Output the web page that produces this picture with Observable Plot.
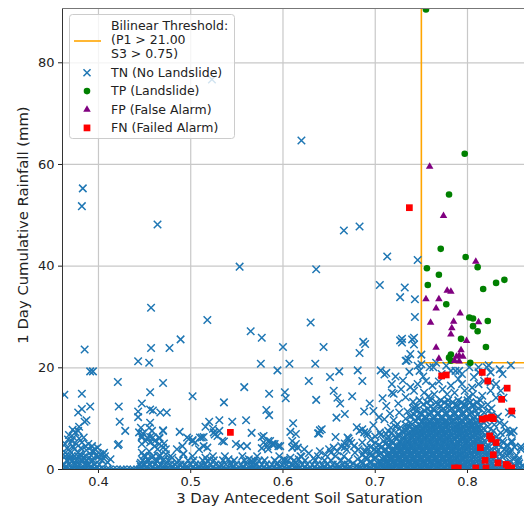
<!DOCTYPE html>
<html><head><meta charset="utf-8">
<script src="https://cdn.jsdelivr.net/npm/d3@7"></script>
<script src="https://cdn.jsdelivr.net/npm/@observablehq/plot@0.6"></script>
<style>
html,body{margin:0;padding:0;background:#fff;}
#chart{position:relative;width:524px;height:506px;overflow:hidden;}
svg{display:block;}
</style></head><body><div id="chart"></div>
<script>
const xTicks = [0.4, 0.5, 0.6, 0.7, 0.8];
const yTicks = [0, 20, 40, 60, 80];
const xLabel = "3 Day Antecedent Soil Saturation";
const yLabel = "1 Day Cumulative Rainfall (mm)";
const thresholdP1 = 21;
const thresholdS3 = 0.75;
const seriesNames = ["TN (No Landslide)", "TP (Landslide)", "FP (False Alarm)", "FN (Failed Alarm)"];

// TN: sparse points (upper area)
const tnSparse = [[0.523,76.7],[0.620,64.7],[0.383,55.3],[0.382,51.8],[0.464,48.2],[0.666,47.0],[0.683,47.8],[0.713,41.9],[0.746,41.2],[0.553,39.9],[0.636,39.4],[0.705,36.3],[0.732,35.8],[0.727,33.9],[0.743,33.5],[0.743,30.0],[0.457,31.8],[0.518,29.4],[0.630,28.9],[0.565,27.2],[0.577,25.9],[0.489,25.6],[0.477,23.9],[0.457,23.9],[0.385,23.6],[0.600,24.1],[0.644,24.1],[0.687,25.1],[0.689,24.7],[0.683,22.9],[0.727,25.4],[0.729,25.0],[0.740,25.6],[0.742,24.6],[0.738,22.7],[0.734,21.4],[0.750,22.6],[0.443,21.3],[0.455,21.0],[0.576,20.8],[0.607,20.8],[0.635,20.8],[0.391,19.3],[0.394,19.3],[0.594,19.5],[0.661,19.3],[0.681,19.5],[0.706,19.5],[0.712,19.0],[0.710,18.7],[0.651,18.2],[0.421,17.2],[0.470,17.0],[0.628,17.4],[0.686,17.4],[0.718,16.8],[0.718,15.1],[0.720,14.9],[0.733,14.2],[0.558,16.2],[0.363,14.7],[0.382,14.9],[0.456,15.2],[0.502,14.4],[0.585,14.9],[0.602,15.2],[0.603,14.0],[0.655,15.5],[0.659,14.1],[0.662,13.0],[0.675,14.4],[0.636,13.7],[0.536,13.2],[0.694,13.0],[0.447,13.0],[0.391,12.4],[0.422,12.4],[0.382,11.9],[0.378,11.2],[0.456,11.8],[0.459,11.6],[0.467,11.2],[0.474,11.2],[0.443,11.4],[0.443,10.3],[0.582,11.7],[0.585,10.7],[0.658,10.2],[0.667,10.9],[0.688,11.4],[0.698,11.5],[0.704,10.3],[0.726,11.2],[0.735,11.4],[0.743,12.2],[0.746,10.2],[0.729,25.7],[0.742,25.9],[0.730,17.5],[0.725,13.0],[0.712,12.5],[0.708,14.0],[0.722,18.3],[0.738,16.2],[0.728,15.8],[0.716,11.0],[0.737,19.2],[0.741,13.3]];

// TN: low points (x < 0.72, y < 10)
const tnLow = [[0.387,9.7],[0.385,9.4],[0.423,9.4],[0.456,9.2],[0.455,8.2],[0.560,9.7],[0.545,9.4],[0.531,9.7],[0.520,9.4],[0.516,8.4],[0.524,8.0],[0.611,9.1],[0.608,7.4],[0.614,7.0],[0.642,7.9],[0.638,7.1],[0.680,8.3],[0.686,7.9],[0.691,7.2],[0.566,7.2],[0.488,7.4],[0.470,7.7],[0.429,7.6],[0.372,7.8],[0.375,7.3],[0.378,7.6],[0.373,6.3],[0.379,6.1],[0.382,5.3],[0.376,5.0],[0.372,4.6],[0.448,7.1],[0.447,6.3],[0.456,6.4],[0.461,5.6],[0.466,6.1],[0.471,5.1],[0.526,6.9],[0.531,7.6],[0.536,5.5],[0.496,6.3],[0.502,5.8],[0.510,6.3],[0.514,6.4],[0.554,4.6],[0.561,4.6],[0.579,6.6],[0.584,5.6],[0.589,5.0],[0.595,4.6],[0.612,4.6],[0.616,4.3],[0.657,6.4],[0.667,5.1],[0.671,6.1],[0.399,4.3],[0.406,3.3],[0.393,3.6],[0.364,5.0],[0.366,4.2],[0.364,3.3],[0.368,2.7],[0.485,4.0],[0.492,3.1],[0.393,4.6],[0.395,3.6],[0.402,3.0],[0.397,2.7],[0.390,2.3],[0.402,2.0],[0.380,3.0],[0.377,2.0],[0.383,1.7],[0.373,1.3],[0.421,4.8],[0.447,5.0],[0.451,5.6],[0.456,5.3],[0.461,4.6],[0.466,5.0],[0.470,4.3],[0.473,4.0],[0.464,4.0],[0.455,3.6],[0.447,3.3],[0.449,2.7],[0.458,2.3],[0.467,2.7],[0.473,3.0],[0.480,2.3],[0.453,2.0],[0.464,1.7],[0.471,2.0],[0.485,1.3],[0.446,1.3],[0.455,1.0],[0.446,8.2],[0.444,7.3],[0.447,6.6],[0.453,6.3],[0.458,7.6],[0.459,6.3],[0.466,6.3],[0.470,7.6],[0.498,6.0],[0.502,5.6],[0.505,5.3],[0.512,6.3],[0.514,4.6],[0.518,4.3],[0.509,4.0],[0.525,7.3],[0.529,6.6],[0.534,5.6],[0.549,5.0],[0.577,6.4],[0.579,5.3],[0.583,4.6],[0.586,5.6],[0.588,5.0],[0.584,4.0],[0.577,4.2],[0.591,5.0],[0.597,4.6],[0.492,3.0],[0.491,4.6],[0.516,2.3],[0.518,1.7],[0.521,2.0],[0.541,2.0],[0.543,1.3],[0.563,2.0],[0.566,1.7],[0.568,1.3],[0.574,1.7],[0.594,1.3],[0.601,2.0],[0.605,1.7],[0.608,2.3],[0.614,1.3],[0.617,2.0],[0.610,5.6],[0.614,5.0],[0.610,4.3],[0.640,7.7],[0.639,7.1],[0.683,7.6],[0.688,7.3],[0.692,6.9],[0.670,6.3],[0.672,5.6],[0.667,4.4],[0.623,4.0],[0.650,4.0],[0.652,3.3],[0.655,4.3],[0.677,4.6],[0.682,4.0],[0.688,3.6],[0.691,4.3],[0.366,1.8],[0.369,3.6],[0.371,5.6],[0.374,2.6],[0.378,3.3],[0.381,4.2],[0.384,2.4],[0.387,3.8],[0.389,5.0],[0.392,2.8],[0.396,4.0],[0.400,2.5],[0.404,1.8],[0.407,2.6],[0.410,1.4],[0.368,6.8],[0.379,8.4],[0.384,6.3],[0.388,1.0],[0.376,1.0],[0.405,3.0],[0.422,5.0],[0.413,2.0],[0.620,2.5],[0.628,3.2],[0.633,2.2],[0.640,3.6],[0.646,2.9],[0.659,3.6],[0.663,4.6],[0.669,3.9],[0.674,5.2],[0.678,3.3],[0.686,5.3],[0.695,5.8],[0.700,6.5],[0.705,7.3],[0.698,8.7],[0.712,7.0],[0.703,4.0],[0.710,9.9],[0.720,9.7],[0.724,8.9],[0.717,8.2],[0.713,6.0],[0.711,5.0],[0.718,5.6],[0.725,6.6],[0.729,7.6],[0.734,8.2],[0.740,8.9],[0.743,7.6],[0.367,5.9],[0.374,4.0],[0.386,4.6],[0.369,2.0],[0.381,2.6],[0.392,1.6]];

// TN: x positions of events with 0 mm rainfall
const tnZeroX = [0.362,0.365,0.369,0.372,0.376,0.379,0.383,0.386,0.390,0.394,0.397,0.401,0.405,0.409,0.412,0.416,0.420,0.424,0.427,0.431,0.435,0.438,0.442,0.445,0.449,0.453,0.456,0.460,0.463,0.467,0.471,0.474,0.478,0.482,0.485,0.489,0.493,0.496,0.500,0.504,0.507,0.511,0.515,0.518,0.522,0.526,0.529,0.533,0.537,0.540,0.544,0.548,0.551,0.555,0.559,0.562,0.566,0.570,0.573,0.577,0.581,0.584,0.588,0.592,0.595,0.599,0.603,0.606,0.610,0.614,0.617,0.621,0.625,0.628,0.632,0.636,0.639,0.643,0.647,0.650,0.654,0.658,0.661,0.665,0.669,0.672,0.676,0.680,0.683,0.687,0.691,0.694,0.698,0.702,0.705,0.709,0.713,0.716,0.720,0.724,0.727,0.731,0.735,0.738,0.742,0.746,0.749,0.753,0.757,0.760,0.764,0.768,0.771,0.775,0.779,0.782,0.786,0.790,0.793,0.797,0.801,0.804,0.808,0.812,0.815,0.819,0.823,0.826,0.830,0.834,0.837,0.841,0.845,0.848,0.852,0.856,0.859];

// TN: low-rainfall band rows outside the main cluster [rainfall, [saturation values]]
const tnBandRows = [
 [0.5,[0.364,0.371,0.377,0.384,0.391,0.398,0.446,0.452,0.459,0.466,0.472,0.479,0.486,0.495,0.503,0.510,0.517,0.524,0.532,0.545,0.556,0.566,0.575,0.586,0.597,0.606,0.615,0.624,0.634,0.644,0.652,0.660,0.667]],
 [1.0,[0.363,0.368,0.374,0.379,0.385,0.390,0.396,0.401,0.445,0.450,0.456,0.461,0.467,0.472,0.478,0.483,0.489,0.494,0.500,0.505,0.511,0.516,0.522,0.527,0.533,0.538,0.544,0.549,0.555,0.560,0.566,0.571,0.577,0.582,0.588,0.593,0.599,0.604,0.610,0.615,0.621,0.626,0.632,0.637,0.643,0.648,0.654,0.659,0.665,0.670]],
 [1.8,[0.366,0.372,0.381,0.387,0.394,0.448,0.454,0.463,0.470,0.476,0.487,0.497,0.503,0.513,0.525,0.535,0.547,0.558,0.569,0.580,0.591,0.602,0.612,0.624,0.635,0.645,0.652,0.663,0.671]],
 [2.6,[0.364,0.371,0.378,0.386,0.451,0.459,0.465,0.478,0.502,0.524,0.537,0.556,0.572,0.596,0.619,0.638,0.657,0.666]]
];

// TN: dense cluster rows [rainfall, [saturation values]]
const tnClusterRows = [
 [13.6,[0.748,0.760,0.771,0.779,0.790,0.800,0.814]],
 [13.2,[0.756,0.766,0.775,0.784,0.794,0.803,0.810]],
 [12.8,[0.752,0.768,0.779,0.788,0.797,0.806,0.822]],
 [12.4,[0.745,0.760,0.771,0.780,0.788,0.797,0.806,0.816]],
 [12.0,[0.741,0.757,0.763,0.774,0.783,0.792,0.801,0.812,0.826]],
 [11.6,[0.744,0.753,0.764,0.772,0.781,0.790,0.799,0.809,0.823]],
 [11.2,[0.749,0.760,0.768,0.777,0.786,0.795,0.804,0.818,0.845]],
 [10.8,[0.742,0.750,0.759,0.768,0.777,0.786,0.795,0.803,0.811,0.826]],
 [10.4,[0.738,0.754,0.764,0.772,0.781,0.790,0.799,0.808,0.814,0.833]],
 [10.0,[0.733,0.747,0.755,0.763,0.772,0.780,0.788,0.797,0.806,0.815,0.830]],
 [9.6,[0.744,0.751,0.759,0.767,0.776,0.784,0.793,0.802,0.811,0.820]],
 [9.2,[0.738,0.751,0.759,0.767,0.775,0.783,0.792,0.801,0.809,0.818,0.835]],
 [8.8,[0.733,0.747,0.755,0.763,0.771,0.779,0.788,0.797,0.805,0.814,0.829,0.840]],
 [8.4,[0.722,0.737,0.745,0.754,0.762,0.770,0.778,0.787,0.795,0.804,0.812,0.822]],
 [8.0,[0.726,0.741,0.750,0.758,0.766,0.774,0.783,0.791,0.800,0.808,0.817]],
 [7.6,[0.714,0.733,0.741,0.749,0.757,0.765,0.773,0.781,0.790,0.798,0.807,0.815,0.828,0.842]],
 [7.2,[0.718,0.737,0.745,0.753,0.761,0.769,0.777,0.786,0.794,0.803,0.811,0.822,0.836,0.848]],
 [6.8,[0.706,0.726,0.735,0.744,0.752,0.760,0.768,0.776,0.784,0.793,0.801,0.810,0.819,0.826]],
 [6.4,[0.722,0.731,0.740,0.748,0.756,0.764,0.772,0.780,0.789,0.797,0.806,0.815,0.831]],
 [6.0,[0.716,0.723,0.731,0.739,0.747,0.755,0.763,0.771,0.779,0.787,0.796,0.804,0.813,0.823,0.834]],
 [5.6,[0.709,0.727,0.735,0.743,0.751,0.759,0.767,0.775,0.783,0.792,0.800,0.809,0.818,0.838,0.848]],
 [5.2,[0.700,0.719,0.727,0.735,0.743,0.751,0.759,0.767,0.775,0.783,0.791,0.800,0.808,0.816,0.828,0.839]],
 [4.8,[0.704,0.715,0.723,0.731,0.739,0.747,0.755,0.763,0.771,0.779,0.787,0.796,0.804,0.812,0.822,0.834,0.843]],
 [4.4,[0.695,0.707,0.715,0.723,0.731,0.739,0.747,0.755,0.763,0.771,0.779,0.787,0.795,0.803,0.812,0.821,0.831,0.851]],
 [4.0,[0.699,0.711,0.719,0.727,0.735,0.743,0.751,0.759,0.767,0.775,0.783,0.791,0.799,0.808,0.817,0.826,0.840,0.858]],
 [3.6,[0.690,0.702,0.710,0.718,0.726,0.734,0.742,0.750,0.758,0.766,0.774,0.782,0.790,0.798,0.807,0.815,0.824,0.832,0.842]],
 [3.2,[0.695,0.706,0.714,0.722,0.730,0.738,0.746,0.754,0.762,0.770,0.778,0.786,0.794,0.803,0.811,0.820,0.836,0.846]],
 [2.8,[0.686,0.696,0.704,0.713,0.721,0.729,0.737,0.745,0.753,0.761,0.769,0.777,0.785,0.793,0.801,0.810,0.820,0.830,0.843,0.853]],
 [2.4,[0.690,0.700,0.709,0.717,0.725,0.733,0.741,0.749,0.757,0.765,0.773,0.781,0.789,0.797,0.806,0.815,0.825,0.838]],
 [2.0,[0.681,0.691,0.699,0.708,0.716,0.724,0.732,0.740,0.748,0.756,0.764,0.772,0.780,0.788,0.796,0.805,0.814,0.824,0.834,0.850]],
 [1.6,[0.685,0.695,0.704,0.712,0.720,0.728,0.736,0.744,0.752,0.760,0.768,0.776,0.784,0.792,0.801,0.810,0.819,0.830,0.846,0.855]],
 [1.2,[0.676,0.686,0.695,0.703,0.711,0.719,0.727,0.735,0.743,0.751,0.759,0.767,0.775,0.783,0.791,0.800,0.808,0.817,0.827,0.840,0.856]],
 [0.8,[0.680,0.690,0.699,0.707,0.715,0.723,0.731,0.739,0.747,0.755,0.763,0.771,0.779,0.787,0.795,0.804,0.813,0.823,0.835,0.852,0.860]],
 [0.4,[0.672,0.684,0.694,0.703,0.711,0.719,0.727,0.735,0.743,0.751,0.759,0.767,0.775,0.783,0.791,0.799,0.808,0.817,0.827,0.838,0.846,0.857]]
];

// TN: the solid core of the cluster [rainfall, [saturation values]]
const tnCoreRows = [
 [9.4,[0.755,0.763,0.771,0.779,0.788,0.796,0.805]],
 [8.6,[0.750,0.758,0.766,0.775,0.783,0.791,0.800,0.809]],
 [7.8,[0.745,0.753,0.761,0.770,0.778,0.786,0.794,0.803,0.811]],
 [7.0,[0.741,0.749,0.757,0.765,0.773,0.781,0.790,0.798,0.807,0.815]],
 [6.2,[0.735,0.744,0.752,0.760,0.768,0.776,0.784,0.793,0.801,0.810]],
 [5.4,[0.731,0.739,0.747,0.755,0.763,0.771,0.779,0.788,0.796,0.805,0.813]],
 [4.6,[0.727,0.735,0.743,0.751,0.759,0.767,0.775,0.783,0.791,0.800,0.808,0.816]],
 [3.8,[0.722,0.730,0.738,0.746,0.754,0.762,0.770,0.778,0.786,0.795,0.803,0.812,0.820]],
 [3.0,[0.717,0.725,0.733,0.741,0.749,0.757,0.765,0.773,0.781,0.790,0.798,0.806,0.815,0.824]],
 [2.2,[0.712,0.720,0.728,0.736,0.744,0.752,0.760,0.768,0.776,0.785,0.793,0.801,0.810,0.819,0.829]],
 [1.4,[0.707,0.715,0.723,0.731,0.739,0.747,0.755,0.763,0.771,0.780,0.788,0.796,0.805,0.814,0.824]],
 [0.6,[0.702,0.710,0.718,0.726,0.734,0.742,0.750,0.758,0.766,0.775,0.783,0.791,0.800,0.809,0.819,0.830]]
];

// TN: points just below threshold in the cluster
const tnClusterTop = [[0.746,16.8],[0.742,15.5],[0.753,15.1],[0.755,17.4],[0.762,16.5],[0.764,14.8],[0.773,15.8],[0.782,16.5],[0.786,15.1],[0.794,16.8],[0.797,15.5],[0.805,16.1],[0.806,14.8],[0.816,14.5],[0.825,15.5],[0.831,14.1],[0.836,15.5],[0.818,17.4],[0.812,16.8],[0.825,17.1],[0.839,14.1],[0.772,18.8],[0.794,18.8],[0.812,19.1],[0.825,19.1],[0.838,18.8],[0.748,19.4],[0.782,19.4],[0.787,19.4],[0.802,20.1],[0.823,20.5],[0.835,19.7],[0.847,20.5],[0.759,20.1],[0.766,21.0],[0.746,20.4],[0.750,20.7],[0.733,21.4],[0.736,21.7],[0.763,20.1],[0.777,20.4],[0.791,19.4],[0.812,20.1],[0.821,20.1],[0.848,10.9],[0.846,7.3],[0.850,7.6],[0.855,2.0],[0.848,5.3],[0.843,4.6],[0.846,3.6],[0.858,4.5],[0.758,14.4],[0.769,17.3],[0.778,14.8],[0.790,17.8],[0.801,14.2],[0.752,18.3],[0.807,18.2],[0.831,16.8]];

const tp = [[0.755,90.5],[0.797,62.1],[0.780,54.1],[0.771,43.4],[0.798,41.8],[0.756,39.6],[0.811,39.8],[0.769,38.3],[0.757,36.3],[0.817,35.5],[0.831,36.7],[0.840,37.3],[0.777,32.5],[0.802,29.9],[0.806,29.7],[0.822,29.2],[0.806,28.2],[0.811,27.2],[0.793,25.7],[0.820,24.1],[0.782,22.6],[0.780,22.0],[0.782,21.4],[0.803,21.0]];

const fp = [[0.759,59.6],[0.774,49.9],[0.809,40.9],[0.778,35.2],[0.782,35.0],[0.755,33.5],[0.769,33.5],[0.766,31.7],[0.792,30.7],[0.760,28.9],[0.785,29.1],[0.812,29.0],[0.783,27.8],[0.782,26.6],[0.799,25.3],[0.766,24.0],[0.793,23.5],[0.791,22.4],[0.795,22.2],[0.788,22.2],[0.769,21.8],[0.786,21.4],[0.791,21.3]];

const fn = [[0.737,51.5],[0.543,7.3],[0.772,18.4],[0.777,18.6],[0.816,19.1],[0.822,17.4],[0.843,16.0],[0.837,13.8],[0.848,11.5],[0.816,9.9],[0.821,10.1],[0.826,10.3],[0.828,10.0],[0.824,6.6],[0.826,6.0],[0.831,5.3],[0.814,4.3],[0.828,2.9],[0.819,1.8],[0.833,1.3],[0.842,1.0],[0.844,0.7],[0.786,0.3],[0.790,0.3],[0.809,0.3],[0.820,0.3],[0.848,0.3]];

const colors = {tn:"#1f77b4", tp:"#008000", fp:"#800080", fn:"#ff0000", thr:"#ffa500"};

const rowsToPoints = rows => rows.flatMap(([y, xs]) => xs.map(x => [x, y]));
const tn = [
  ...tnZeroX.map(x => [x, 0]),
  ...rowsToPoints(tnBandRows), ...tnLow,
  ...rowsToPoints(tnClusterRows), ...rowsToPoints(tnCoreRows),
  ...tnClusterTop, ...tnSparse
];
const thresholdPath = [[thresholdS3, 200], [thresholdS3, thresholdP1], [2, thresholdP1]];

const X = d => d[0], Y = d => d[1];
const plot = Plot.plot({
  width: 524, height: 506,
  marginLeft: 62, marginRight: 0, marginTop: 8, marginBottom: 37,
  x: {domain: [0.361, 0.8618]},
  y: {domain: [0, 90.68]},
  style: {fontFamily: "DejaVu Sans", fontSize: "13px", color: "#222", background: "#fff"},
  marks: [
    Plot.gridX(xTicks, {stroke: "#c8c8c8", strokeOpacity: 1, strokeWidth: 1.2}),
    Plot.gridY(yTicks.slice(1), {stroke: "#c8c8c8", strokeOpacity: 1, strokeWidth: 1.2}),
    Plot.line(thresholdPath, {x: X, y: Y, stroke: colors.thr, strokeWidth: 1.6, clip: true}),
    Plot.dot(tn, {x: X, y: Y, symbol: "times", r: 3.5, stroke: colors.tn, strokeWidth: 1.5, fill: "none", clip: true}),
    Plot.dot(tp, {x: X, y: Y, symbol: "circle", r: 3.3, fill: colors.tp, clip: true}),
    Plot.dot(fp, {x: X, y: Y, symbol: "triangle", r: 2.8, fill: colors.fp, clip: true}),
    Plot.dot(fn, {x: X, y: Y, symbol: "square", r: 3.8, fill: colors.fn, clip: true}),
    Plot.axisX(xTicks, {tickSize: 4, tickPadding: 3, fontSize: 13, label: null, tickFormat: d => d.toFixed(1)}),
    Plot.axisY(yTicks, {tickSize: 4, tickPadding: 4, fontSize: 13, label: null}),
    Plot.text([xLabel], {text: d => d, frameAnchor: "bottom", dy: 29, dx: 6, fontSize: 14.8, lineAnchor: "middle"}),
    Plot.text([yLabel], {text: d => d, frameAnchor: "left", textAnchor: "middle", rotate: -90, dx: -39, dy: -14, fontSize: 14.8})
  ]
});
document.getElementById("chart").appendChild(plot);

// spines (left, top, bottom) from scale ranges
const sx = plot.scale("x"), sy = plot.scale("y");
const [x0, x1] = sx.range, [y0, y1] = sy.range;
const svg = d3.select(plot);
const sp = svg.append("g").attr("stroke", "#333").attr("stroke-width", 1).attr("fill", "none");
sp.append("line").attr("x1", x0 + 0.5).attr("x2", x0 + 0.5).attr("y1", y1).attr("y2", y0);
sp.append("line").attr("x1", x0).attr("x2", x1).attr("y1", y0 + 0.5).attr("y2", y0 + 0.5);
sp.append("line").attr("x1", x0).attr("x2", x1).attr("y1", y1 + 0.5).attr("y2", y1 + 0.5).attr("stroke", "#777");

// legend
const lg = svg.append("g").attr("font-family", "DejaVu Sans").attr("font-size", 12.5).attr("fill", "#222").attr("text-anchor", "start");
lg.append("rect").attr("x", 69.5).attr("y", 14.5).attr("width", 165).attr("height", 124).attr("rx", 3)
  .attr("fill", "#fff").attr("fill-opacity", 0.8).attr("stroke", "#cccccc");
lg.append("line").attr("x1", 74).attr("x2", 101).attr("y1", 41).attr("y2", 41).attr("stroke", colors.thr).attr("stroke-width", 1.6);
const thrLines = ["Bilinear Threshold:", `(P1 > ${thresholdP1.toFixed(2)}`, `S3 > ${thresholdS3})`];
thrLines.forEach((t, i) => lg.append("text").attr("x", 111).attr("y", 26 + i * 14).attr("dy", "0.35em").text(t));
const legendItems = [
  {name: seriesNames[0], sym: d3.symbolTimes, r: 3.3, stroke: colors.tn},
  {name: seriesNames[1], sym: d3.symbolCircle, r: 3.3, fill: colors.tp},
  {name: seriesNames[2], sym: d3.symbolTriangle, r: 2.8, fill: colors.fp},
  {name: seriesNames[3], sym: d3.symbolSquare, r: 3.8, fill: colors.fn}
];
legendItems.forEach((it, i) => {
  const y = 72.7 + i * 18.4;
  lg.append("path").attr("d", d3.symbol(it.sym, Math.PI * it.r * it.r)())
    .attr("transform", `translate(87,${y})`)
    .attr("fill", it.fill || "none").attr("stroke", it.stroke || "none").attr("stroke-width", 1.5);
  lg.append("text").attr("x", 111).attr("y", y).attr("dy", "0.35em").text(it.name);
});
</script></body></html>
